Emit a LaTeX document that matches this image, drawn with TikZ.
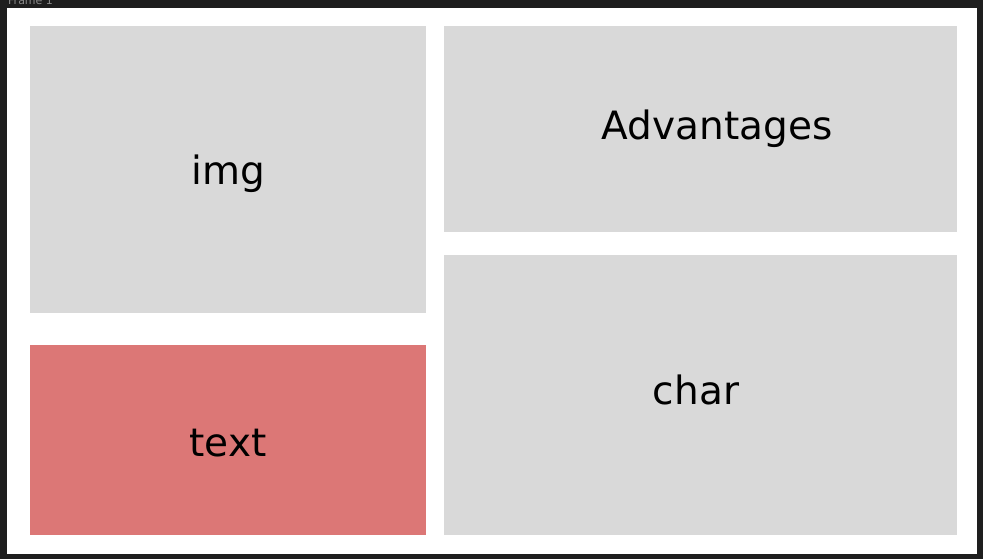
\documentclass[tikz,border=0pt]{standalone}
\usepackage{fontspec}
\setmainfont{DejaVu Sans}
\definecolor{bgdark}{HTML}{1E1E1E}
\definecolor{boxgray}{HTML}{D9D9D9}
\definecolor{boxred}{HTML}{DC7776}
\definecolor{labelgray}{HTML}{8A8A8A}
\begin{document}
\begin{tikzpicture}[x=1pt,y=-1pt,
  panel/.style={fill=boxgray,draw=none},
  lbl/.style={anchor=base,inner sep=0pt,font=\fontsize{39}{42}\selectfont,text=black}]
\useasboundingbox (0,0) rectangle (983,559);
\clip (0,0) rectangle (983,559);
\fill[bgdark] (0,0) rectangle (983,559);
\node[anchor=base west,inner sep=0pt,font=\fontsize{11}{12}\selectfont,text=labelgray] (framelabel) at (8,5) {Frame 1};
\fill[white] (7,8) rectangle (977,554);
\fill[panel] (30,26) rectangle (426,313);
\fill[boxred] (30,345) rectangle (426,535);
\fill[panel] (444,26) rectangle (957,232);
\fill[panel] (444,255) rectangle (957,535);
\node[lbl] (img) at (228,185) {img};
\node[lbl] (text) at (228,456) {text};
\node[lbl] (adv) at (717,140) {Advantages};
\node[lbl] (char) at (696,404) {char};
\end{tikzpicture}
\end{document}
